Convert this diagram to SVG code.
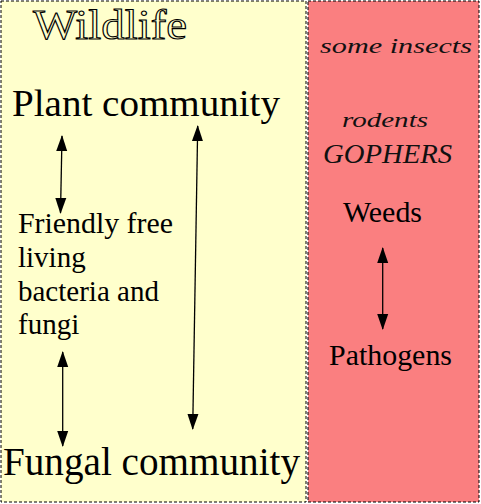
<svg xmlns="http://www.w3.org/2000/svg" width="481" height="504" viewBox="0 0 481 504">
<defs>
<style>
.panel{stroke:#000;stroke-width:1;stroke-dasharray:3,2}
.lbl{font-family:"Liberation Serif","Times New Roman",serif;fill:#000}
.title{font-family:"Liberation Serif","Times New Roman",serif;fill:#ffffcc;stroke:#000;stroke-width:1.1}
.hand{font-family:"Liberation Serif",serif;font-style:italic;fill:#111}
.conn{stroke:#000;stroke-width:1.3;fill:none;marker-start:url(#ah);marker-end:url(#ah)}
</style>
<marker id="ah" viewBox="0 0 16 12" refX="15" refY="6" markerWidth="16" markerHeight="12" markerUnits="userSpaceOnUse" orient="auto-start-reverse">
<path d="M0,0.5 L16,6 L0,11.5 Z" fill="#000"/>
</marker>
</defs>
<rect width="481" height="504" fill="#ffffff"/>
<g id="wildlife-panel">
<rect x="1" y="1" width="305" height="501" fill="#ffffcc" class="panel"/>
<text x="33" y="39" class="title" font-size="42" textLength="154" lengthAdjust="spacingAndGlyphs">Wildlife</text>
</g>
<g id="pest-panel">
<rect x="308" y="1" width="171" height="501" fill="#fa7f80" class="panel"/>
</g>
<g id="plant-community">
<text x="12" y="116" class="lbl" font-size="38" textLength="268" lengthAdjust="spacingAndGlyphs">Plant community</text>
</g>
<g id="friendly-bacteria">
<text class="lbl" font-size="29">
<tspan x="18" y="233" textLength="155" lengthAdjust="spacingAndGlyphs">Friendly free</tspan>
<tspan x="18" y="267">living</tspan>
<tspan x="18" y="301">bacteria and</tspan>
<tspan x="18" y="334">fungi</tspan>
</text>
</g>
<g id="fungal-community">
<text x="3" y="475" class="lbl" font-size="39" textLength="297" lengthAdjust="spacingAndGlyphs">Fungal community</text>
</g>
<g id="some-insects">
<text x="320" y="53" class="hand" font-size="22" textLength="152" lengthAdjust="spacingAndGlyphs">some insects</text>
</g>
<g id="rodents">
<text x="342" y="127" class="hand" font-size="22" textLength="86" lengthAdjust="spacingAndGlyphs">rodents</text>
<text x="323" y="163" class="hand" font-size="28" textLength="129" lengthAdjust="spacingAndGlyphs">GOPHERS</text>
</g>
<g id="weeds">
<text x="343" y="222" class="lbl" font-size="29" textLength="79" lengthAdjust="spacingAndGlyphs">Weeds</text>
</g>
<g id="pathogens">
<text x="329" y="365" class="lbl" font-size="29" textLength="123" lengthAdjust="spacingAndGlyphs">Pathogens</text>
</g>
<g id="connectors">
<line class="conn" x1="62" y1="136" x2="60.5" y2="213"/>
<line class="conn" x1="197.7" y1="126" x2="192.7" y2="429"/>
<line class="conn" x1="62.7" y1="352" x2="62.7" y2="446"/>
<line class="conn" x1="382.7" y1="248" x2="382.7" y2="329"/>
</g>
</svg>
